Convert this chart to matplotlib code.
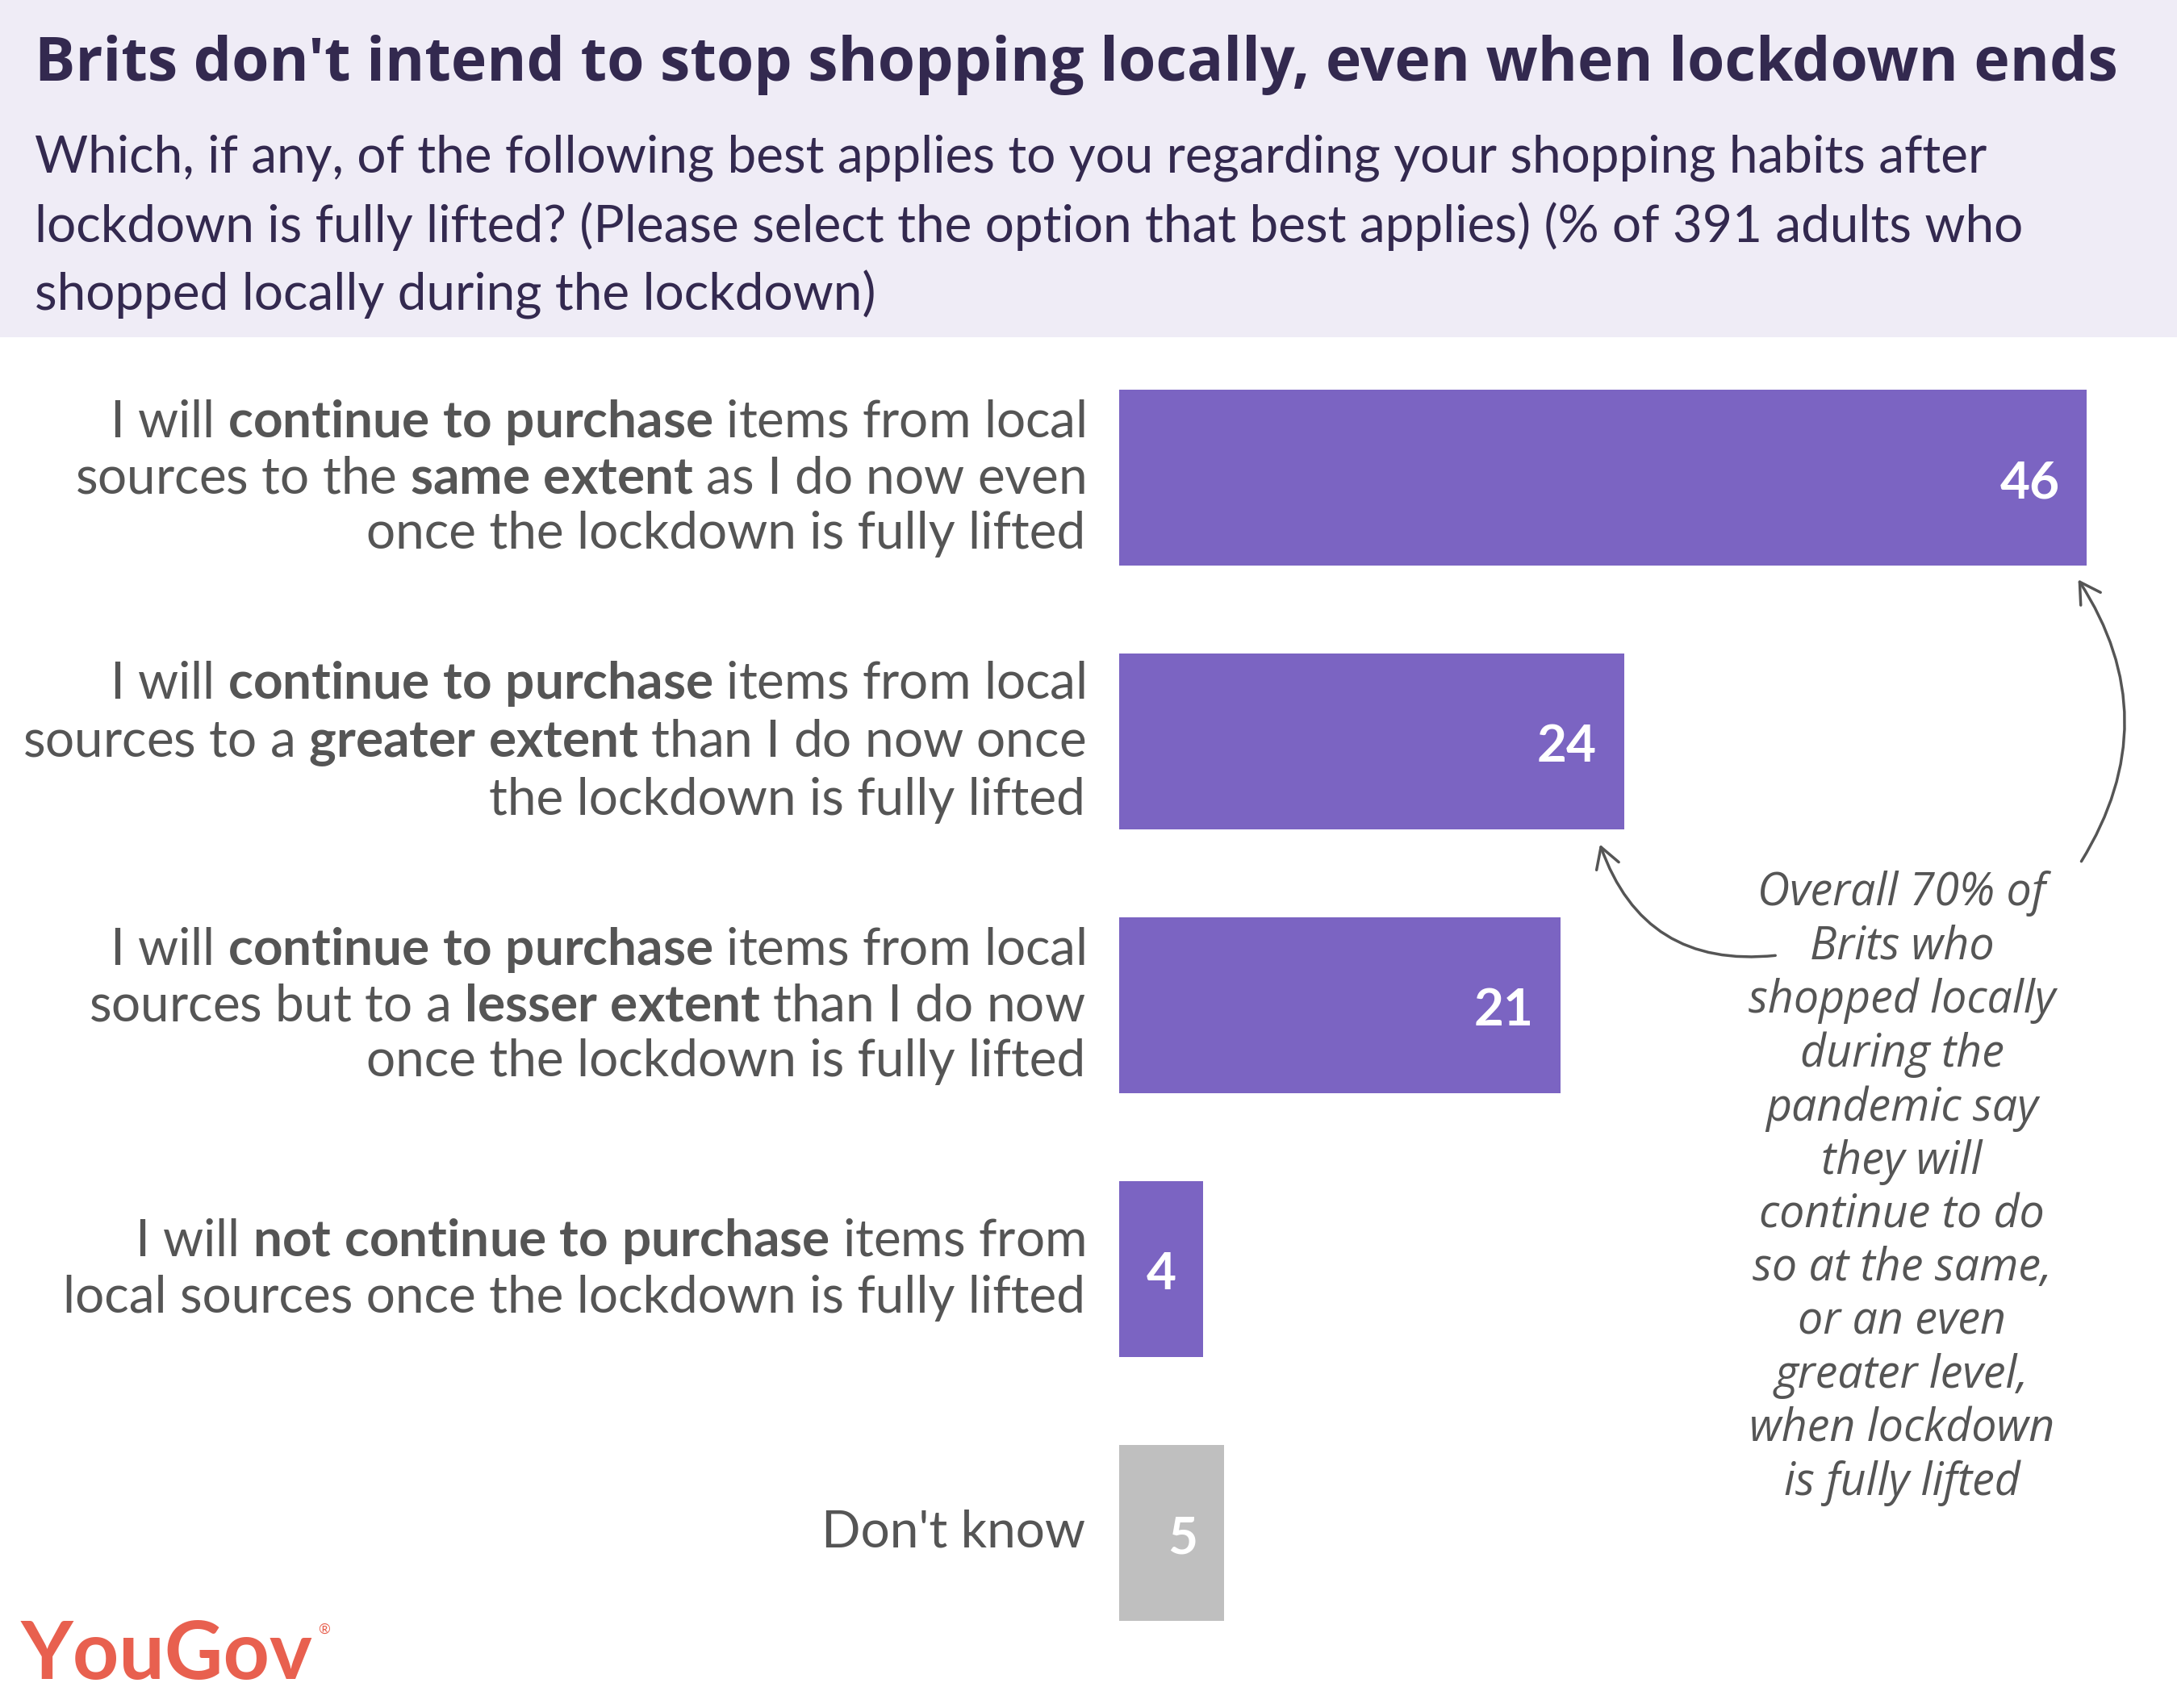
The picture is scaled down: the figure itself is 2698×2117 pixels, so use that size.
import matplotlib
matplotlib.use("Agg")
import matplotlib.pyplot as plt
from matplotlib.patches import Rectangle, FancyArrowPatch
from matplotlib.transforms import blended_transform_factory

plt.rcParams['font.family'] = ['Lato', 'DejaVu Sans']
plt.rcParams['mathtext.fontset'] = 'custom'
plt.rcParams['mathtext.rm'] = 'Lato'
plt.rcParams['mathtext.bf'] = 'Lato:bold'
plt.rcParams['mathtext.it'] = 'Lato:italic'

# data
categories = [
    "I will $\\mathbf{continue\\ to\\ purchase}$ items from local\n"
    "sources to the $\\mathbf{same\\ extent}$ as I do now even\n"
    "once the lockdown is fully lifted",
    "I will $\\mathbf{continue\\ to\\ purchase}$ items from local\n"
    "sources to a $\\mathbf{greater\\ extent}$ than I do now once\n"
    "the lockdown is fully lifted",
    "I will $\\mathbf{continue\\ to\\ purchase}$ items from local\n"
    "sources but to a $\\mathbf{lesser\\ extent}$ than I do now\n"
    "once the lockdown is fully lifted",
    "I will $\\mathbf{not\\ continue\\ to\\ purchase}$ items from\n"
    "local sources once the lockdown is fully lifted",
    "Don't know",
]
values = [46, 24, 21, 4, 5]
bar_colors = ['#7B64C2', '#7B64C2', '#7B64C2', '#7B64C2', '#BFBFBF']

title = "Brits don't intend to stop shopping locally, even when lockdown ends"
subtitle_lines = [
    "Which, if any, of the following best applies to you regarding your shopping habits after",
    "lockdown is fully lifted? (Please select the option that best applies) (% of 391 adults who",
    "shopped locally during the lockdown)",
]
note_lines = [
    "Overall 70% of", "Brits who", "shopped locally", "during the",
    "pandemic say", "they will", "continue to do", "so at the same,",
    "or an even", "greater level,", "when lockdown", "is fully lifted",
]

W, H = 2698, 2117
TXT = '#33294F'
GREY = '#555555'


def px(x, y):
    # top-left pixel coords -> figure fraction
    return x / W, 1 - y / H


fig = plt.figure(figsize=(W / 100, H / 100), dpi=100)
fig.patch.set_facecolor('white')

# header band
fig.patches.append(Rectangle((0, 1 - 418 / H), 1, 418 / H, transform=fig.transFigure,
                             facecolor='#EFECF6', edgecolor='none', zorder=0))
fig.text(*px(43, 80), title, fontsize=54, fontweight='bold', color=TXT, va='center',
         family=['Open Sans', 'DejaVu Sans'])
for i, line in enumerate(subtitle_lines):
    fig.text(*px(43, 196 + i * 84.5), line, fontsize=46, color=TXT, va='center')

# bars
ax = fig.add_axes([1387 / W, (H - 2063.5) / H, 1199 / W, 1635 / H])
y = list(range(len(values)))
ax.barh(y, values, height=0.664, color=bar_colors)
ax.set_xlim(0, 46)
ax.set_ylim(4.5, -0.5)
ax.axis('off')

for yi, v in zip(y, values):
    ax.annotate(str(v), xy=(v, yi), xytext=(-24, -5), textcoords='offset points',
                ha='right', va='center', color='white', fontsize=46, fontweight='bold')

tr = blended_transform_factory(ax.transAxes, ax.transData)
for yi, lab in zip(y, categories):
    ax.text(-0.035, yi, lab, transform=tr, ha='right', va='center', ma='right',
            fontsize=46, color=GREY, linespacing=1.22)

# side note
fig.text(*px(2357, 1473), "\n".join(note_lines), ha='center', va='center',
         fontsize=40, style='italic', color=GREY, linespacing=1.215,
         family=['Open Sans', 'DejaVu Sans'])

arrow_kw = dict(transform=fig.transFigure, color=GREY, lw=2.5,
                arrowstyle='->,head_length=0.6,head_width=0.35', mutation_scale=30)
fig.add_artist(FancyArrowPatch(px(2203, 1184), px(1982, 1044),
                               connectionstyle='arc3,rad=-0.4', **arrow_kw))
fig.add_artist(FancyArrowPatch(px(2578, 1070), px(2574, 716),
                               connectionstyle='arc3,rad=0.32', **arrow_kw))

# logo
fig.text(*px(26, 2052), "YouGov", fontsize=72, fontweight='bold', color='#E8604F',
         va='center', ha='left')
fig.text(*px(394, 2020), "®", fontsize=13, color='#E8604F', va='center', ha='left')

fig.savefig('out.png', dpi=100)
